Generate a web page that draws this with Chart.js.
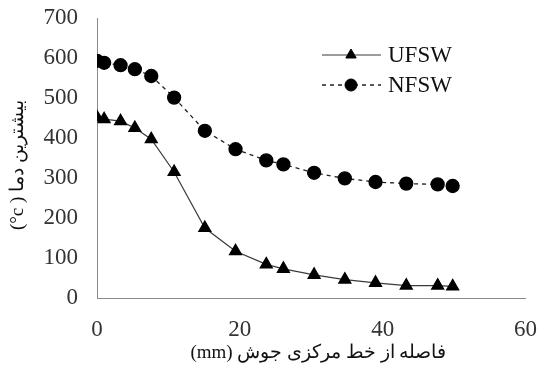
<!DOCTYPE html>
<html>
<head>
<meta charset="utf-8">
<script src="https://cdn.jsdelivr.net/npm/chart.js@4/dist/chart.umd.min.js"></script>
<style>
html,body{margin:0;padding:0;background:#fff;}
canvas{display:block;}
</style>
</head>
<body>
<canvas id="c" width="537" height="382"></canvas>
<script>
// ---- data ----
const distances = [0, 1, 3.3, 5.3, 7.6, 10.8, 15.1, 19.4, 23.7, 26.1, 30.4, 34.7, 39.0, 43.3, 47.7, 49.8];
const ufsw = [452, 447, 442, 425, 397, 315, 175, 117, 84, 73, 58, 46, 38, 31, 31, 29];
const nfsw = [593, 588, 582, 572, 555, 501, 418, 372, 344, 334, 313, 299, 290, 286, 284, 280];
const seriesNames = ["UFSW", "NFSW"];
const xTicks = [0, 20, 40, 60];
const yTicks = [0, 100, 200, 300, 400, 500, 600, 700];
const xTitle = "   (mm) فاصله از خط مرکزی جوش";
const yTitle = "(°c ) بیشترین دما   ";

const serif = "'Liberation Serif', 'Times New Roman', serif";

function toPoints(xs, ys) { return xs.map((x, i) => ({x: x, y: ys[i]})); }

const legendPlugin = {
  id: 'insideLegend',
  afterDraw(chart) {
    const ctx = chart.ctx;
    const rows = [55, 85];
    chart.data.datasets.forEach((ds, i) => {
      const y = rows[i];
      ctx.save();
      ctx.strokeStyle = ds.borderColor;
      ctx.lineWidth = ds.borderWidth;
      ctx.setLineDash(ds.borderDash || []);
      ctx.beginPath();
      ctx.moveTo(322, y);
      ctx.lineTo(381, y);
      ctx.stroke();
      ctx.setLineDash([]);
      ctx.fillStyle = ds.pointBackgroundColor;
      ctx.strokeStyle = ds.pointBorderColor;
      ctx.lineWidth = 1;
      Chart.helpers.drawPoint(ctx, {pointStyle: ds.pointStyle, radius: ds.legendRadius, borderWidth: 1, rotation: 0}, 351, y);
      ctx.fillStyle = '#111';
      ctx.font = "23px " + serif;
      ctx.textBaseline = 'middle';
      ctx.textAlign = 'left';
      ctx.fillText(ds.label, 388, y + 1);
      ctx.restore();
    });
  }
};

new Chart(document.getElementById('c'), {
  type: 'scatter',
  data: {
    datasets: [
      {
        label: seriesNames[0],
        data: toPoints(distances, ufsw),
        showLine: true,
        borderColor: '#3a3a3a',
        borderWidth: 1.2,
        pointStyle: 'triangle',
        pointRadius: 7,
        legendRadius: 6,
        pointBackgroundColor: '#000',
        pointBorderColor: '#000',
        tension: 0
      },
      {
        label: seriesNames[1],
        data: toPoints(distances, nfsw),
        showLine: true,
        borderColor: '#222',
        borderWidth: 1.3,
        borderDash: [4, 4],
        pointStyle: 'circle',
        pointRadius: 6.5,
        legendRadius: 6,
        pointBackgroundColor: '#000',
        pointBorderColor: '#000',
        tension: 0
      }
    ]
  },
  options: {
    responsive: false,
    animation: false,
    layout: {padding: {top: 18, right: 11, bottom: 0, left: 0}},
    plugins: {legend: {display: false}, tooltip: {enabled: false}},
    scales: {
      x: {
        type: 'linear',
        min: 0, max: 60,
        afterBuildTicks(scale) { scale.ticks = xTicks.map(v => ({value: v})); },
        afterFit(scale) { scale.height = 84; },
        grid: {display: false, drawTicks: true, tickLength: 18},
        border: {display: true, color: '#8a8a8a', width: 1},
        ticks: {color: '#333', font: {family: serif, size: 23}, padding: 0, maxRotation: 0},
        title: {display: true, text: xTitle, color: '#111', font: {family: serif, size: 19}, padding: {top: 0, bottom: 18}}
      },
      y: {
        type: 'linear',
        min: 0, max: 700,
        afterBuildTicks(scale) { scale.ticks = yTicks.map(v => ({value: v})); },
        afterFit(scale) { scale.width = 97; },
        grid: {display: false, drawTicks: true, tickLength: 19},
        border: {display: true, color: '#8a8a8a', width: 1},
        ticks: {color: '#333', font: {family: serif, size: 23}, padding: 0},
        title: {display: true, text: yTitle, color: '#111', font: {family: serif, size: 19}, padding: {top: 7, bottom: 0}}
      }
    }
  },
  plugins: [legendPlugin]
});
</script>
</body>
</html>
